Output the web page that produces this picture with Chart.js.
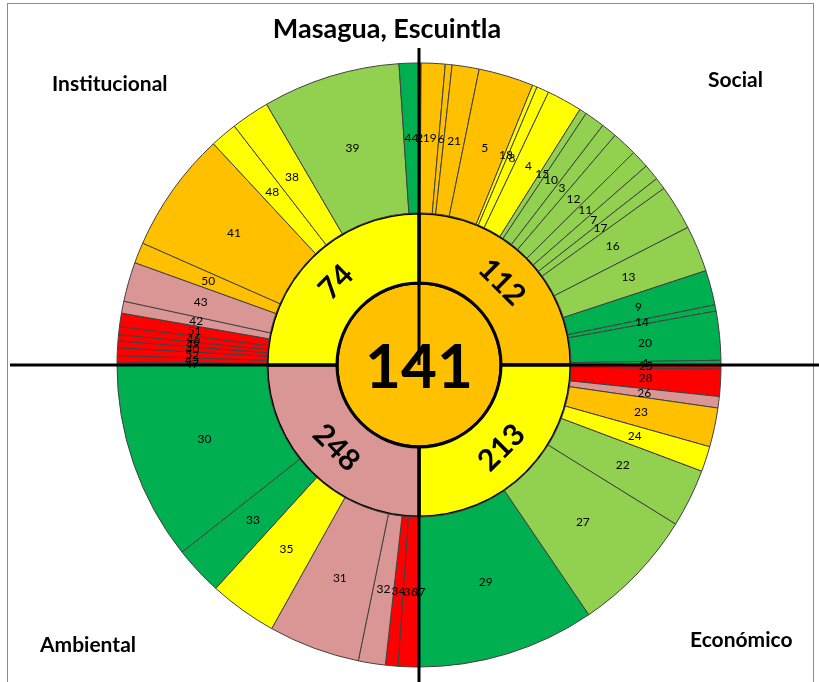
<!DOCTYPE html>
<html>
<head>
<meta charset="utf-8">
<script src="https://cdn.jsdelivr.net/npm/chart.js@4.4.1/dist/chart.umd.min.js"></script>
<style>
html, body { margin: 0; padding: 0; background: #fff; }
#wrap { position: relative; width: 819px; height: 682px; overflow: hidden; font-family: Lato, sans-serif; }
#frame { position: absolute; left: 7px; top: 3px; width: 805px; height: 700px; border: 1px solid #8c8c8c; }
canvas { position: absolute; left: 0; top: 0; }
.t { position: absolute; font-weight: bold; color: #000; white-space: nowrap; }
</style>
</head>
<body>
<div id="wrap">
  <div id="frame"></div>
  <canvas id="sunburst" width="819" height="682"></canvas>
  <div class="t" style="left:0;width:774px;text-align:center;top:14px;font-size:27px;line-height:27px">Masagua, Escuintla</div>
  <div class="t" style="left:52px;top:72px;font-size:21px;line-height:21px">Institucional</div>
  <div class="t" style="left:708px;top:68px;font-size:21px;line-height:21px">Social</div>
  <div class="t" style="left:40px;top:633px;font-size:21px;line-height:21px">Ambiental</div>
  <div class="t" style="left:690px;top:628px;font-size:21px;line-height:21px">Económico</div>
</div>
<script>
// Masagua sunburst - indicators per dimension (values = share of the quadrant)

// Social (clockwise from top)
const socialIds    = ['2', '19', '6', '21', '5', '18', '8', '4', '15', '10', '3', '12', '11', '7', '17', '16', '13', '9', '14', '20', '1'];
const socialValues = [0.4, 4.6, 1.3, 5.2, 10.6, 0.9, 2.4, 6.8, 1.4, 3.9, 3.0, 4.8, 3.5, 3.1, 2.3, 8.7, 8.9, 6.7, 1.2, 9.4, 0.9];
const socialLevels = ['red', 'orange', 'orange', 'orange', 'orange', 'yellow', 'yellow', 'yellow', 'light', 'light', 'light', 'light', 'light', 'light', 'light', 'light', 'light', 'dark', 'dark', 'dark', 'dark'];

// Económico
const economicoIds    = ['25', '28', '26', '23', '24', '22', '27', '29'];
const economicoValues = [0.8, 5.2, 2.2, 7.5, 4.9, 11.2, 24.0, 34.2];
const economicoLevels = ['red', 'red', 'pink', 'orange', 'yellow', 'light', 'light', 'dark'];

// Ambiental
const ambientalIds    = ['37', '36', '34', '32', '31', '35', '33', '30'];
const ambientalValues = [0.3, 3.7, 2.4, 5.2, 17.6, 13.1, 9.4, 38.3];
const ambientalLevels = ['red', 'red', 'red', 'pink', 'pink', 'yellow', 'dark', 'dark'];

// Institucional
const institucionalIds    = ['47', '45', '52', '40', '49', '46', '51', '42', '43', '50', '41', '48', '38', '39', '44'];
const institucionalValues = [0.6, 1.2, 1.5, 1.3, 1.2, 1.5, 2.6, 2.3, 7.6, 4.0, 23.3, 5.2, 7.4, 26.5, 3.8];
const institucionalLevels = ['red', 'red', 'red', 'red', 'red', 'red', 'red', 'pink', 'pink', 'orange', 'orange', 'yellow', 'yellow', 'light', 'dark'];

// Dimensions (inner ring) and overall (centre)
const dimensionNames  = ['Social', 'Económico', 'Ambiental', 'Institucional'];
const dimensionScores = ['112', '213', '248', '74'];
const dimensionShare  = [90, 90, 90, 90];
const dimensionLevels = ['orange', 'yellow', 'pink', 'yellow'];
const overallScore = '141';
const overallLevel = 'orange';

const palette = {
    dark: '#00B050',
    light: '#92D050',
    yellow: '#FFFF00',
    orange: '#FFC000',
    pink: '#DA9694',
    red: '#FF0000'
};

const outerIds = [].concat(socialIds, economicoIds, ambientalIds, institucionalIds);
const outerValues = [].concat(socialValues, economicoValues, ambientalValues, institucionalValues);
const outerLevels = [].concat(socialLevels, economicoLevels, ambientalLevels, institucionalLevels);

// Labels + cross lines
const sunLabels = {
    id: 'sunLabels',
    afterDatasetsDraw(chart) {
        const ctx = chart.ctx;
        const outer = chart.getDatasetMeta(0);
        const ring = chart.getDatasetMeta(1);
        const core = chart.getDatasetMeta(2).data[0];
        const cx = core.x, cy = core.y, rc = core.outerRadius;

        ctx.save();
        // black cross lines, stopping at the centre circle
        ctx.strokeStyle = '#000';
        ctx.lineWidth = 3;
        ctx.beginPath();
        ctx.moveTo(cx, 48); ctx.lineTo(cx, cy - rc);
        ctx.moveTo(cx, cy + rc); ctx.lineTo(cx, 682);
        ctx.moveTo(10, cy); ctx.lineTo(cx - rc, cy);
        ctx.moveTo(cx + rc, cy); ctx.lineTo(819, cy);
        ctx.stroke();

        // indicator numbers
        ctx.fillStyle = '#000';
        ctx.textAlign = 'center';
        ctx.textBaseline = 'middle';
        ctx.font = '12px Lato';
        outer.data.forEach((arc, i) => {
            const p = arc.getCenterPoint();
            ctx.fillText(outerIds[i], p.x, p.y);
        });

        // dimension scores, rotated along the ring
        ctx.font = 'bold 30px Lato';
        ring.data.forEach((arc, i) => {
            const p = arc.getCenterPoint();
            let rot = (arc.startAngle + arc.endAngle) / 2 + Math.PI / 2;
            if (rot > Math.PI / 2 && rot < Math.PI * 1.5) rot -= Math.PI;
            ctx.save();
            ctx.translate(p.x, p.y);
            ctx.rotate(rot);
            ctx.fillText(dimensionScores[i], 0, 0);
            ctx.restore();
        });

        // overall
        ctx.font = 'bold 62px Lato';
        ctx.fillText(overallScore, cx, cy + 3);
        ctx.restore();
    }
};

const ctx = document.getElementById('sunburst').getContext('2d');
const sunburst = new Chart(ctx, {
    type: 'doughnut',
    data: {
        labels: outerIds,
        datasets: [
            {
                data: outerValues,
                backgroundColor: outerLevels.map(l => palette[l]),
                borderColor: '#404040',
                borderWidth: 1,
                weight: 150
            },
            {
                data: dimensionShare,
                backgroundColor: dimensionLevels.map(l => palette[l]),
                borderColor: '#000',
                borderWidth: 3,
                weight: 70
            },
            {
                data: [1],
                backgroundColor: [palette[overallLevel]],
                borderColor: '#000',
                borderWidth: 3,
                weight: 82
            }
        ]
    },
    options: {
        responsive: false,
        animation: false,
        cutout: 0,
        radius: 302,
        layout: { padding: { left: 19, top: 48, right: 0, bottom: 0 } },
        plugins: {
            legend: { display: false },
            tooltip: { enabled: false }
        }
    },
    plugins: [sunLabels]
});
</script>
</body>
</html>
